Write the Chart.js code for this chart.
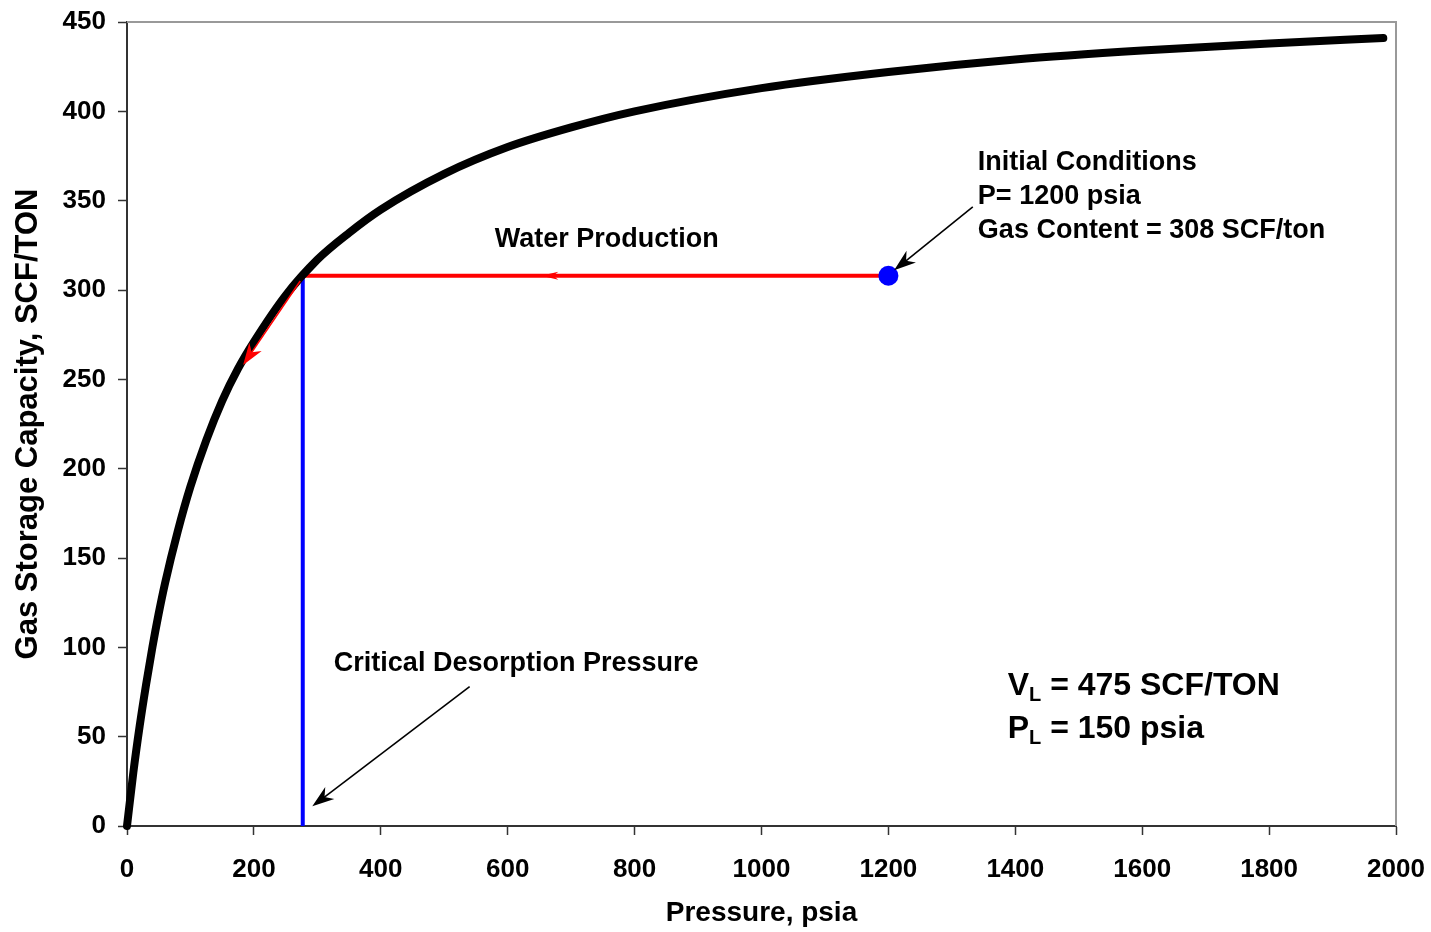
<!DOCTYPE html>
<html lang="en">
<head>
    <meta charset="UTF-8">
    <title>Gas Storage Capacity</title>
    <script src="https://cdn.jsdelivr.net/npm/chart.js"></script>
</head>
<style>
    body {
        margin: 0;
        background-color: #ffffff;
    }
</style>
<body>

<canvas id="isotherm" width="1431" height="932"></canvas>

<script>
    // isotherm read point by point (psia, SCF/ton)
    const pressure = [0, 10, 20, 30, 40, 50, 60, 80, 100, 125, 150, 175, 200, 250, 300, 350, 400, 500, 600, 700, 800, 1000, 1200, 1400, 1600, 1800, 1980];
    const capacity = [0, 30, 56, 79, 100, 119, 136, 165, 190, 216, 238, 256, 271, 297, 317, 332, 345, 365, 380, 391, 400, 413, 422, 429, 434, 438, 441];

    // initial reservoir state and critical desorption pressure
    const initialPressure = 1200;
    const gasContent = 308;
    const criticalPressure = 277;

    const xTicks = [0, 200, 400, 600, 800, 1000, 1200, 1400, 1600, 1800, 2000];
    const yTicks = [0, 50, 100, 150, 200, 250, 300, 350, 400, 450];

    // arrows: [fromP, fromV, toP, toV, colour, head length, head width, line width]
    const arrows = [
        [1333, 346.5, 1209, 311, '#000000', 22, 15, 1.6],
        [540, 78, 292, 11, '#000000', 22, 15, 1.6],
        [273, 305, 183, 258, '#ff0000', 22, 15, 1.6],
        [700, 308, 653, 308, '#ff0000', 17, 8, 0]
    ];

    const FAMILY = '"Liberation Sans", Arial, sans-serif';
    const BOLD = 'bold 27px ' + FAMILY;

    const curve = pressure.map((p, i) => ({ x: p, y: capacity[i] }));

    function drawArrow(ctx, x1, y1, x2, y2, color, len, wid, lw) {
        const ang = Math.atan2(y2 - y1, x2 - x1);
        ctx.save();
        ctx.strokeStyle = color;
        ctx.fillStyle = color;
        if (lw > 0) {
            ctx.lineWidth = lw;
            ctx.beginPath();
            ctx.moveTo(x1, y1);
            ctx.lineTo(x2 - Math.cos(ang) * len * 0.6, y2 - Math.sin(ang) * len * 0.6);
            ctx.stroke();
        }
        ctx.translate(x2, y2);
        ctx.rotate(ang);
        ctx.beginPath();
        ctx.moveTo(0, 0);
        ctx.lineTo(-len, -wid / 2);
        ctx.lineTo(-len * 0.7, 0);
        ctx.lineTo(-len, wid / 2);
        ctx.closePath();
        ctx.fill();
        ctx.restore();
    }

    const annotations = {
        id: 'annotations',
        afterDatasetsDraw(chart) {
            const ctx = chart.ctx;
            const xs = chart.scales.x;
            const ys = chart.scales.y;
            const area = chart.chartArea;

            // light frame on the top and right sides
            ctx.save();
            ctx.strokeStyle = '#999999';
            ctx.lineWidth = 2;
            ctx.beginPath();
            ctx.moveTo(area.left, area.top);
            ctx.lineTo(area.right, area.top);
            ctx.lineTo(area.right, area.bottom);
            ctx.stroke();
            ctx.restore();

            arrows.forEach(a => {
                drawArrow(ctx,
                    xs.getPixelForValue(a[0]), ys.getPixelForValue(a[1]),
                    xs.getPixelForValue(a[2]), ys.getPixelForValue(a[3]),
                    a[4], a[5], a[6], a[7]);
            });

            ctx.save();
            ctx.fillStyle = '#000000';
            ctx.font = BOLD;
            ctx.textBaseline = 'middle';

            ctx.textAlign = 'center';
            ctx.fillText('Water Production', xs.getPixelForValue(756), ys.getPixelForValue(328));

            ctx.textAlign = 'left';
            const ix = xs.getPixelForValue(1341);
            ctx.fillText('Initial Conditions', ix, ys.getPixelForValue(371.4));
            ctx.fillText('P= ' + initialPressure + ' psia', ix, ys.getPixelForValue(352.4));
            ctx.fillText('Gas Content = ' + gasContent + ' SCF/ton', ix, ys.getPixelForValue(333.4));

            ctx.fillText('Critical Desorption Pressure', xs.getPixelForValue(326), ys.getPixelForValue(91));

            // Langmuir constants with subscripts
            const big = 'bold 32px ' + FAMILY;
            const sub = 'bold 20px ' + FAMILY;
            const lx = xs.getPixelForValue(1388);
            const rows = [['V', ' = 475 SCF/TON', 78], ['P', ' = 150 psia', 54]];
            rows.forEach(r => {
                const y = ys.getPixelForValue(r[2]);
                ctx.font = big;
                ctx.fillText(r[0], lx, y);
                let w = ctx.measureText(r[0]).width;
                ctx.font = sub;
                ctx.fillText('L', lx + w, y + 9);
                w += ctx.measureText('L').width;
                ctx.font = big;
                ctx.fillText(r[1], lx + w, y);
            });
            ctx.restore();
        }
    };

    const tickFont = { family: FAMILY, size: 26, weight: 'bold' };

    // fixed axis boxes so the plot area sits where the layout padding says
    function fitBox(s, size) {
        if (s.isHorizontal()) s.height = size; else s.width = size;
        s.paddingTop = 0;
        s.paddingBottom = 0;
        s.paddingLeft = 0;
        s.paddingRight = 0;
    }

    const ctx = document.getElementById('isotherm').getContext('2d');
    const chart = new Chart(ctx, {
        type: 'scatter',
        data: {
            datasets: [{
                label: 'Gas storage capacity',
                data: curve,
                showLine: true,
                borderColor: '#000000',
                borderWidth: 8,
                borderCapStyle: 'round',
                borderJoinStyle: 'round',
                cubicInterpolationMode: 'monotone',
                pointRadius: 0,
                clip: false
            }, {
                label: 'Initial point',
                data: [{ x: initialPressure, y: gasContent }],
                pointRadius: 10,
                pointBackgroundColor: '#0000ff',
                pointBorderColor: '#0000ff',
                pointBorderWidth: 0
            }, {
                label: 'Water production',
                data: [{ x: criticalPressure, y: gasContent }, { x: initialPressure, y: gasContent }],
                showLine: true,
                borderColor: '#ff0000',
                borderWidth: 4,
                pointRadius: 0
            }, {
                label: 'Critical desorption pressure',
                data: [{ x: criticalPressure, y: 0 }, { x: criticalPressure, y: gasContent }],
                showLine: true,
                borderColor: '#0000ff',
                borderWidth: 4,
                pointRadius: 0
            }]
        },
        options: {
            responsive: false,
            animation: false,
            devicePixelRatio: 1,
            layout: { padding: { left: 0, right: 35, top: 22, bottom: 0 } },
            plugins: {
                legend: { display: false },
                tooltip: { enabled: false }
            },
            scales: {
                x: {
                    type: 'linear',
                    min: 0,
                    max: 2000,
                    afterFit: s => fitBox(s, 106),
                    afterBuildTicks: s => { s.ticks = xTicks.map(v => ({ value: v })); },
                    border: { color: '#333333', width: 2 },
                    grid: { drawOnChartArea: false, tickLength: 9, color: '#333333', tickWidth: 1.5 },
                    ticks: { color: '#000000', font: tickFont, padding: 19, maxRotation: 0, callback: v => String(v) },
                    title: {
                        display: true,
                        text: 'Pressure, psia',
                        color: '#000000',
                        font: { family: FAMILY, size: 28, weight: 'bold' },
                        padding: { top: 0, bottom: 2 }
                    }
                },
                y: {
                    type: 'linear',
                    min: 0,
                    max: 450,
                    afterFit: s => fitBox(s, 127),
                    afterBuildTicks: s => { s.ticks = yTicks.map(v => ({ value: v })); },
                    border: { color: '#333333', width: 2 },
                    grid: { drawOnChartArea: false, tickLength: 9, color: '#333333', tickWidth: 1.5 },
                    ticks: { color: '#000000', font: tickFont, padding: 12, callback: v => String(v) },
                    title: {
                        display: true,
                        text: 'Gas Storage Capacity, SCF/TON',
                        color: '#000000',
                        font: { family: FAMILY, size: 31, weight: 'bold' },
                        padding: { top: 10, bottom: 0 }
                    }
                }
            }
        },
        plugins: [annotations]
    });
</script>
</body>
</html>
